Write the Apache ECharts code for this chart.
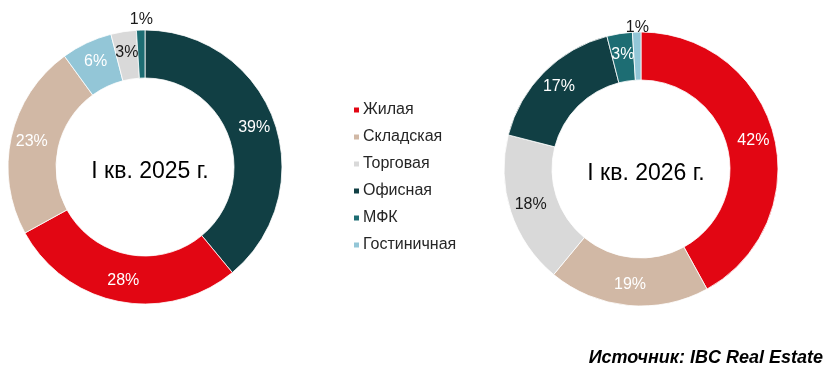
<!DOCTYPE html>
<html>
<head>
<meta charset="utf-8">
<script src="https://cdn.jsdelivr.net/npm/echarts@6/dist/echarts.min.js"></script>
<style>html,body{margin:0;padding:0;background:#fff}#c{width:840px;height:379px}</style>
</head>
<body>
<div id="c"></div>
<script>
const categories = ['Жилая', 'Складская', 'Торговая', 'Офисная', 'МФК', 'Гостиничная'];
const colors = ['#E20613', '#D1B8A5', '#D9D9D9', '#113F44', '#1D6D73', '#93C6D7'];
// clockwise from 12 o'clock
const order2025 = ['Офисная', 'Жилая', 'Складская', 'Гостиничная', 'Торговая', 'МФК'];
const values2025 = [39, 28, 23, 6, 3, 1];
const order2026 = ['Жилая', 'Складская', 'Торговая', 'Офисная', 'МФК', 'Гостиничная'];
const values2026 = [42, 19, 18, 17, 3, 1];
const darkLabelCats = ['Торговая'];

function build(order, values, outsideOffset) {
  return order.map((name, i) => {
    const idx = categories.indexOf(name);
    const item = { name: name, value: values[i], itemStyle: { color: colors[idx] } };
    if (values[i] <= 1) {
      item.label = { color: '#1a1a1a', offset: [0, outsideOffset] };
    } else if (darkLabelCats.includes(name)) {
      item.label = { color: '#1a1a1a' };
    }
    return item;
  });
}

const FONT = 'Liberation Sans, Arial, sans-serif';
const chart = echarts.init(document.getElementById('c'));
const common = {
  type: 'pie',
  radius: [89, 137],
  startAngle: 90,
  clockwise: true,
  avoidLabelOverlap: false,
  silent: true,
  itemStyle: { borderColor: '#fff', borderWidth: 0.8 },
  label: {
    show: true, position: 'inside', formatter: '{c}%',
    color: '#fff', fontSize: 16, fontFamily: FONT
  },
  labelLine: { show: false },
  emphasis: { disabled: true }
};
chart.setOption({
  animation: false,
  title: [
    { text: 'I кв. 2025 г.', left: 145, top: 167, textAlign: 'center', textVerticalAlign: 'middle',
      textStyle: { fontSize: 23, fontWeight: 'normal', color: '#000', fontFamily: FONT } },
    { text: 'I кв. 2026 г.', left: 641, top: 169, textAlign: 'center', textVerticalAlign: 'middle',
      textStyle: { fontSize: 23, fontWeight: 'normal', color: '#000', fontFamily: FONT } },
    { text: 'Источник: IBC Real Estate', right: 17, top: 349, padding: 0,
      textStyle: { fontSize: 18, fontWeight: 'bold', fontStyle: 'italic', color: '#000', fontFamily: FONT } }
  ],
  legend: {
    orient: 'vertical', left: 352, top: 102,
    data: categories,
    icon: 'rect', itemWidth: 7, itemHeight: 7, itemGap: 11,
    padding: 0,
    textStyle: { fontSize: 16, lineHeight: 16, color: '#262626', fontFamily: FONT, padding: [0, 0, 0, -2] },
    selectedMode: false
  },
  series: [
    Object.assign({}, common, { name: '2025', center: [145, 167], data: build(order2025, values2025, -31) }),
    Object.assign({}, common, { name: '2026', center: [641, 169], data: build(order2026, values2026, -25) })
  ]
});
</script>
</body>
</html>
